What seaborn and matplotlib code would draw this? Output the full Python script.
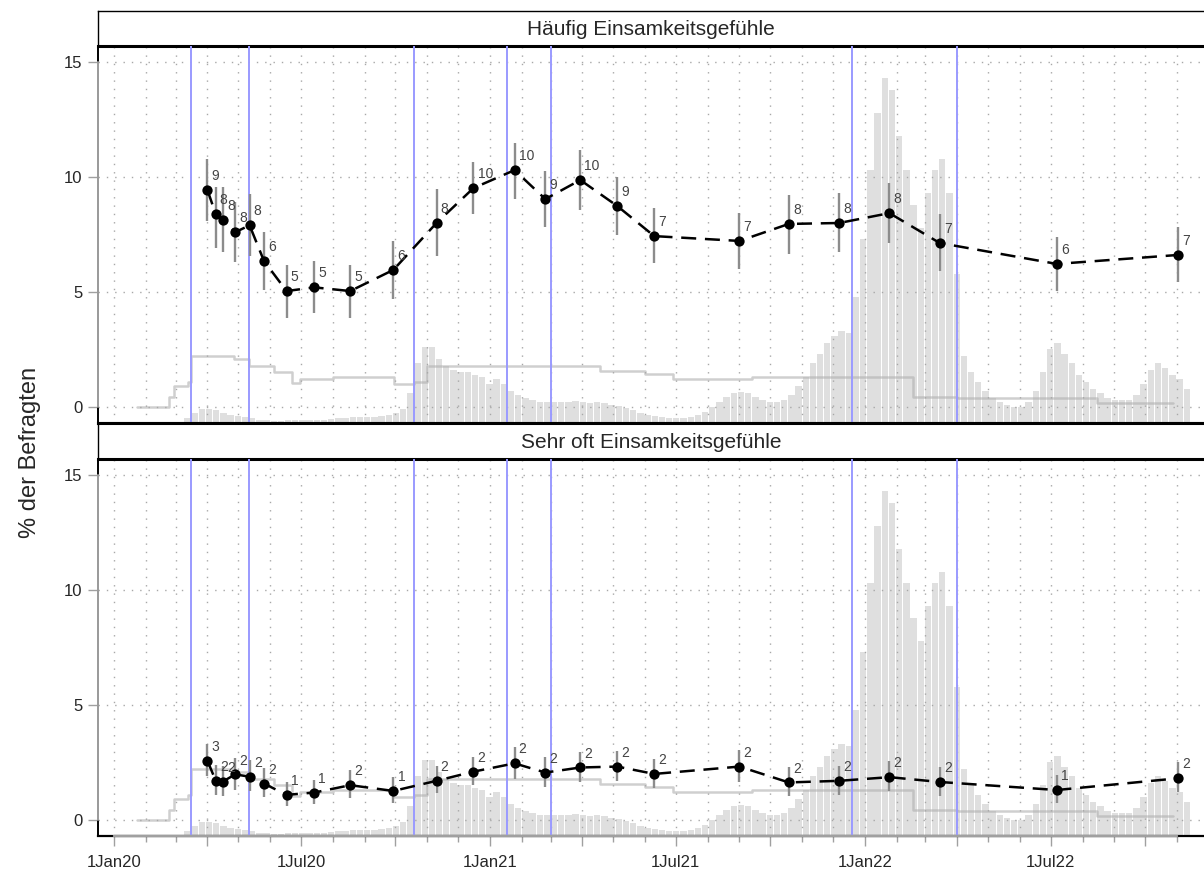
import numpy as np
import pandas as pd
import matplotlib
matplotlib.use('Agg')
import matplotlib.pyplot as plt
import matplotlib.dates as mdates
import seaborn as sns

# survey waves (mid-field date) and share in %, with 95% CI
wave_dates = ['2020-04-01', '2020-04-09', '2020-04-16', '2020-04-28', '2020-05-12', '2020-05-26',
              '2020-06-17', '2020-07-14', '2020-08-18', '2020-09-29', '2020-11-10', '2020-12-16',
              '2021-01-25', '2021-02-24', '2021-03-30', '2021-05-05', '2021-06-10', '2021-09-01',
              '2021-10-19', '2021-12-07', '2022-01-25', '2022-03-15', '2022-07-07', '2022-11-02']
haeufig = [9.43, 8.39, 8.13, 7.60, 7.90, 6.35, 5.04, 5.20, 5.04, 5.96, 8.00, 9.52,
           10.30, 9.04, 9.87, 8.74, 7.43, 7.22, 7.96, 8.00, 8.43, 7.13, 6.22, 6.61]
haeufig_lo = [8.10, 6.90, 6.74, 6.30, 6.57, 5.10, 3.87, 4.09, 3.87, 4.70, 6.57, 8.39,
              9.04, 7.83, 8.57, 7.48, 6.26, 6.00, 6.65, 6.74, 7.13, 5.91, 5.04, 5.43]
haeufig_hi = [10.80, 9.57, 9.57, 8.90, 9.26, 7.60, 6.17, 6.35, 6.17, 7.22, 9.48, 10.65,
              11.50, 10.26, 11.17, 10.00, 8.65, 8.43, 9.20, 9.30, 9.74, 8.39, 7.39, 7.83]
sehr_oft = [2.57, 1.71, 1.67, 1.98, 1.88, 1.58, 1.09, 1.19, 1.51, 1.26, 1.70, 2.10,
            2.46, 2.06, 2.28, 2.32, 2.00, 2.32, 1.63, 1.70, 1.86, 1.65, 1.30, 1.81]
sehr_oft_lo = [1.90, 1.10, 1.05, 1.30, 1.25, 1.00, 0.60, 0.70, 0.95, 0.75, 1.15, 1.50,
               1.80, 1.45, 1.65, 1.70, 1.40, 1.65, 1.05, 1.10, 1.25, 1.05, 0.75, 1.20]
sehr_oft_hi = [3.30, 2.40, 2.35, 2.70, 2.60, 2.25, 1.65, 1.75, 2.15, 1.85, 2.35, 2.75,
               3.15, 2.75, 2.95, 3.00, 2.65, 3.05, 2.30, 2.35, 2.55, 2.30, 1.95, 2.50]

panel_titles = ['Häufig Einsamkeitsgefühle', 'Sehr oft Einsamkeitsgefühle']

# dates of measures (blue lines)
measure_dates = ['2020-03-16', '2020-05-11', '2020-10-19', '2021-01-18',
                 '2021-03-01', '2021-12-20', '2022-04-01']

# new cases, weekly, as height above the panel floor (background bars)
case_start = '2020-02-24'
case_week = [0.0, 0.05, 0.2, 0.45, 0.6, 0.6, 0.55, 0.45, 0.35, 0.3, 0.25, 0.2, 0.15, 0.12,
             0.1, 0.1, 0.12, 0.15, 0.12, 0.12, 0.12, 0.15, 0.18, 0.2, 0.22, 0.25, 0.25, 0.25,
             0.28, 0.3, 0.35, 0.45, 0.6, 1.3, 2.6, 3.3, 3.3, 2.8, 2.5, 2.3, 2.2, 2.2, 2.1, 2.0,
             1.7,
             1.9, 1.7, 1.4, 1.2, 1.1, 1.0, 0.9, 0.9, 0.9, 0.9, 0.9, 0.95, 0.9, 0.85, 0.9, 0.85,
             0.8, 0.75, 0.65, 0.55, 0.45, 0.35, 0.3, 0.25, 0.2, 0.2, 0.2, 0.25, 0.35, 0.5, 0.7,
             0.9, 1.15, 1.3, 1.35, 1.3, 1.15, 1.0, 0.9, 0.9, 1.0, 1.2, 1.6, 2.0, 2.6, 3.0, 3.5,
             3.8, 4.0, 3.9, 5.5, 8.0,
             11.0, 13.5, 15.0, 14.5, 12.5, 11.0, 9.5, 8.5, 10.0, 11.0, 11.5, 10.0, 6.5, 2.9,
             2.2, 1.8, 1.4, 1.1, 0.9, 0.8, 0.7, 0.7, 0.9, 1.4, 2.2, 3.2, 3.5, 3.0, 2.6, 2.1,
             1.8, 1.5, 1.3, 1.1, 1.0, 1.0, 1.0, 1.2, 1.7, 2.3, 2.6, 2.4, 2.1, 1.9, 1.5]

# stringency of measures (background step line)
strict_dates = ['2020-01-23', '2020-02-24', '2020-02-28', '2020-03-13', '2020-03-16',
                '2020-04-27', '2020-05-11', '2020-06-05', '2020-06-22', '2020-06-30',
                '2020-08-01', '2020-09-30', '2020-10-19', '2020-11-01', '2020-12-12',
                '2021-04-18', '2021-06-01', '2021-06-28', '2021-09-13', '2022-02-17',
                '2022-04-01', '2022-08-15', '2022-10-28']
strict_val = [0.0, 0.45, 0.9, 1.1, 2.2, 2.1, 1.8, 1.5, 1.05, 1.2, 1.3, 1.0, 1.1, 1.77, 1.8,
              1.55, 1.45, 1.2, 1.3, 0.45, 0.37, 0.17, 0.17]

sns.set_style('white')
plt.rcParams['font.family'] = ['Liberation Sans', 'DejaVu Sans']

W, H = 1204, 877
fig = plt.figure(figsize=(W / 100, H / 100), dpi=100)
L = 98 / W
YMIN, YMAX = -0.7, 15.7
t0 = mdates.date2num(pd.Timestamp('2020-01-01'))
XMIN, XMAX = t0 - 15.6, t0 + 1061.3
AXGRAY = '#a0a0a0'

x_wave = mdates.date2num(pd.to_datetime(wave_dates))
x_case = mdates.date2num(pd.date_range(case_start, periods=len(case_week), freq='7D')) + 3.5
x_strict = mdates.date2num(pd.to_datetime(strict_dates))
x_meas = mdates.date2num(pd.to_datetime(measure_dates))
months = mdates.date2num(pd.date_range('2020-01-01', '2022-11-01', freq='MS'))

df = pd.DataFrame({
    'x': np.concatenate([x_wave, x_wave]),
    'val': haeufig + sehr_oft,
    'lo': haeufig_lo + sehr_oft_lo,
    'hi': haeufig_hi + sehr_oft_hi,
    'panel': [panel_titles[0]] * len(x_wave) + [panel_titles[1]] * len(x_wave),
})

# (header top, plot top, plot bottom) in pixels
layout = [(11, 46, 423), (423, 459, 836)]


def date_fmt(x, pos=None):
    d = mdates.num2date(x)
    if d.month in (1, 7):
        return f'{d.day}{d.strftime("%b%y")}'
    return ''


for i, (title, (h_top, p_top, p_bot)) in enumerate(zip(panel_titles, layout)):
    # header box
    hx = fig.add_axes([L, 1 - p_top / H, 1 - L, (p_top - h_top) / H])
    hx.set_xticks([])
    hx.set_yticks([])
    for s in ['right', 'bottom']:
        hx.spines[s].set_visible(False)
    hx.spines['left'].set_linewidth(1.0)
    hx.spines['top'].set_linewidth(1.0 if i == 0 else 2.2)
    for s in ['left', 'top']:
        hx.spines[s].set_color('black')
    hx.text(0.5, 0.47, title, transform=hx.transAxes,
            ha='center', va='center', fontsize=15)

    ax = fig.add_axes([L, 1 - p_bot / H, 1 - L, (p_bot - p_top) / H])
    d = df[df['panel'] == title]

    # background: cases and stringency
    ax.bar(x_case, case_week, width=6.2, bottom=YMIN, color='#dfdfdf', linewidth=0, zorder=1)
    ax.step(np.append(x_strict, x_strict[-1]), np.append(strict_val, strict_val[-1]),
            where='post', color='#b0b0b0', alpha=0.6, lw=1.8, zorder=2)

    # dotted grid
    for m in months:
        ax.axvline(m, color='#a8a8a8', lw=1.0, ls=(0, (1, 5)), zorder=2.5)
    for v in [0, 5, 10, 15]:
        ax.axhline(v, color='#a8a8a8', lw=1.0, ls=(0, (1, 5)), zorder=2.5)

    for m in x_meas:
        ax.axvline(m, color='#9a9aff', lw=1.4, zorder=3)

    ax.vlines(d['x'], d['lo'], d['hi'], color='#8c8c8c', lw=1.7, zorder=4)
    sns.lineplot(data=d, x='x', y='val', ax=ax, color='black', lw=1.8,
                 linestyle=(0, (6, 3.5)), legend=False, zorder=5)
    sns.scatterplot(data=d, x='x', y='val', ax=ax, color='black', s=55, linewidth=0,
                    legend=False, zorder=6)
    for xi, vi in zip(d['x'], d['val']):
        ax.annotate(f'{int(np.round(vi))}', (xi, vi), xytext=(3, 10), textcoords='offset points',
                    fontsize=10, color='#444444', ha='left', va='center', zorder=7)

    ax.set_xlim(XMIN, XMAX)
    ax.set_ylim(YMIN, YMAX)
    ax.set_xlabel('')
    ax.set_ylabel('')
    ax.set_yticks([0, 5, 10, 15])
    ax.set_yticklabels(['0', '5', '10', '15'])
    ax.tick_params(axis='y', left=True, length=7, width=1, color=AXGRAY, labelsize=12, pad=4)

    ax.spines['right'].set_visible(False)
    ax.spines['top'].set_linewidth(2.2)
    ax.spines['bottom'].set_linewidth(2.2 if i == 0 else 1.6)
    ax.spines['left'].set_linewidth(1.4)
    for s in ['top', 'bottom', 'left']:
        ax.spines[s].set_color('black')
    ax.plot([XMIN, XMIN], [0, 15], color=AXGRAY, lw=1.4, clip_on=False, zorder=10)

    ax.xaxis.set_major_locator(mdates.MonthLocator(bymonth=[1, 4, 7, 10]))
    ax.xaxis.set_minor_locator(mdates.MonthLocator())
    ax.xaxis.set_major_formatter(plt.FuncFormatter(date_fmt))
    if i == 0:
        ax.tick_params(axis='x', which='both', bottom=False, labelbottom=False)
    else:
        ax.tick_params(axis='x', which='major', bottom=True, length=7, width=1,
                       color=AXGRAY, labelsize=12, pad=7)
        ax.tick_params(axis='x', which='minor', bottom=True, length=4, width=1, color=AXGRAY)
        ax.plot([months[0], months[-1]], [YMIN, YMIN], color=AXGRAY, lw=1.7,
                clip_on=False, zorder=10)

fig.text(30 / W, 1 - 452 / H, '% der Befragten', rotation=90, ha='center', va='center',
         fontsize=17)

fig.savefig('out.png', dpi=100)
